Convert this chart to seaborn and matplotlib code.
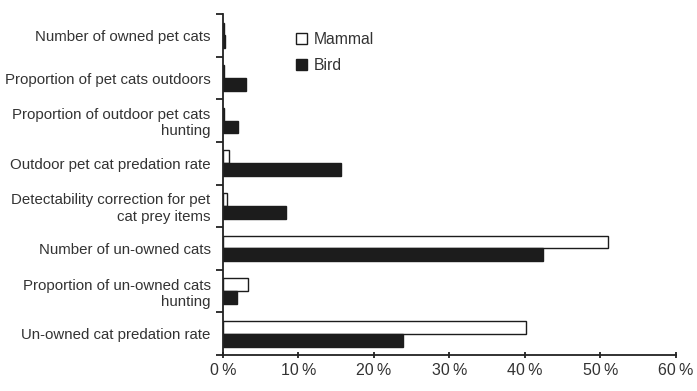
import matplotlib
matplotlib.use("Agg")
import matplotlib.pyplot as plt
import seaborn as sns
import pandas as pd
import numpy as np

categories = [
    "Number of owned pet cats",
    "Proportion of pet cats outdoors",
    "Proportion of outdoor pet cats\nhunting",
    "Outdoor pet cat predation rate",
    "Detectability correction for pet\ncat prey items",
    "Number of un-owned cats",
    "Proportion of un-owned cats\nhunting",
    "Un-owned cat predation rate",
]
mammal = [0.1, 0.1, 0.1, 0.8, 0.5, 51.0, 3.3, 40.2]
bird = [0.2, 3.0, 2.0, 15.7, 8.4, 42.4, 1.9, 23.8]
x_ticks = [0, 10, 20, 30, 40, 50, 60]

df = pd.DataFrame({
    "factor": categories * 2,
    "value": mammal + bird,
    "taxon": ["Mammal"] * len(categories) + ["Bird"] * len(categories),
})

sns.set_style("ticks")
plt.rcParams["font.family"] = ["Liberation Sans", "DejaVu Sans"]

fig = plt.figure(figsize=(6.97, 3.91), dpi=100)
ax = fig.add_axes([0.32, 0.092, 0.6495, 0.872])

sns.barplot(data=df, x="value", y="factor", hue="taxon", orient="h",
            palette={"Mammal": "white", "Bird": "#1c1c1c"},
            edgecolor="#1c1c1c", linewidth=1.0, width=0.6, ax=ax)

ax.set_xlim(0, 60)
ax.set_ylim(len(categories) - 0.5, -0.5)
ax.set_xticks(x_ticks)
ax.set_xticklabels([f"{t}\u2009%" for t in x_ticks], fontsize=11.5, color="#333333")

# category boundaries as ticks, labels in the middle
ax.set_yticks(np.arange(-0.5, len(categories), 1.0))
ax.set_yticklabels([])
ax.set_yticks(np.arange(len(categories)), minor=True)
ax.set_yticklabels(categories, minor=True, fontsize=10.8, color="#333333",
                   ha="right", linespacing=1.2)
ax.tick_params(axis="y", which="minor", length=0, pad=9)
ax.tick_params(axis="y", which="major", length=5, width=1.3, color="#222222")
ax.tick_params(axis="x", length=5, width=1.3, color="#222222", direction="inout")
ax.set_xlabel("")
ax.set_ylabel("")

sns.despine(ax=ax)
for s in ["left", "bottom"]:
    ax.spines[s].set_linewidth(1.3)
    ax.spines[s].set_color("#222222")

ax.legend(loc="upper left", bbox_to_anchor=(0.13, 0.99), frameon=False,
          fontsize=11.3, handlelength=0.7, handleheight=0.7, handletextpad=0.4,
          labelspacing=0.7, labelcolor="#333333")

fig.savefig("out.png", dpi=100)
